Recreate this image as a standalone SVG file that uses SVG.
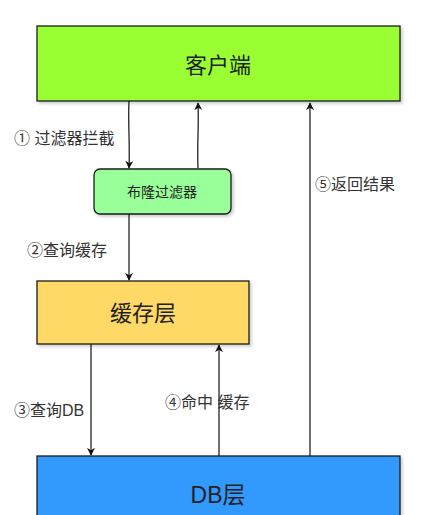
<svg xmlns="http://www.w3.org/2000/svg" width="424" height="515" viewBox="0 0 424 515">
<defs>
<style>
.box{stroke:#1a1a1a;stroke-width:1.3}
.t{font-family:"Liberation Sans","Noto Sans CJK SC",sans-serif;fill:#222;text-anchor:middle}
.lbl{font-family:"Liberation Sans","Noto Sans CJK SC",sans-serif;fill:#333;font-size:16px}
.c{stroke:#111;stroke-width:1.2;fill:none;marker-end:url(#ah)}
</style>
<marker id="ah" viewBox="0 0 10 10" refX="9" refY="5" markerWidth="8" markerHeight="8" orient="auto" markerUnits="userSpaceOnUse">
<path d="M0,0 L10,5 L0,10 L3,5 z" fill="#111"/>
</marker>
<filter id="sh" x="-5%" y="-5%" width="110%" height="115%">
<feDropShadow dx="2" dy="2" stdDeviation="1.5" flood-color="#000" flood-opacity="0.2"/>
</filter>
</defs>
<rect width="424" height="515" fill="#fff"/>
<g id="client">
<rect class="box" x="37" y="26" width="363" height="75" fill="#99ff33" filter="url(#sh)"/>
<text class="t" x="218" y="73" font-size="22">客户端</text>
</g>
<g id="bloom">
<rect class="box" x="94" y="169" width="137" height="45" rx="6" fill="#99ff99" filter="url(#sh)"/>
<text class="t" x="162" y="197" font-size="14">布隆过滤器</text>
</g>
<g id="cache">
<rect class="box" x="37" y="281" width="212" height="63" fill="#ffd966" filter="url(#sh)"/>
<text class="t" x="143" y="321" font-size="22">缓存层</text>
</g>
<g id="db">
<rect class="box" x="37" y="456" width="363" height="70" fill="#3399ff" filter="url(#sh)"/>
<text class="t" x="218" y="503" font-size="23" fill="#0d2340">DB层</text>
</g>
<g id="connectors">
<path class="c" d="M129,101 C128,125 130,145 129,168"/>
<path class="c" d="M198,168 C197,145 199,125 198,103"/>
<path class="c" d="M310,456 L310,103"/>
<path class="c" d="M129,214 L129,280"/>
<path class="c" d="M91,344 L91,455"/>
<path class="c" d="M219,456 L219,345"/>
<text class="lbl" x="14" y="144">① 过滤器拦截</text>
<text class="lbl" x="315" y="190">⑤返回结果</text>
<text class="lbl" x="27" y="256">②查询缓存</text>
<text class="lbl" x="14" y="416">③查询DB</text>
<text class="lbl" x="165" y="408">④命中 缓存</text>
</g>
</svg>
